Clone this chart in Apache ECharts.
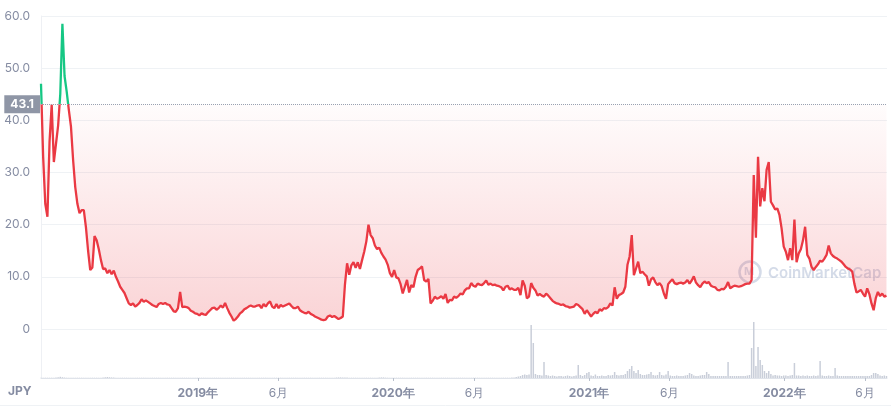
<!DOCTYPE html>
<html><head><meta charset="utf-8">
<script src="https://cdn.jsdelivr.net/npm/echarts@6/dist/echarts.min.js"></script>
<style>html,body{margin:0;padding:0;background:#fff}#c{width:891px;height:406px}</style>
</head><body><div id="c"></div>
<script>
// ---- data ----
const startDay = [2018, 2, 14];   // first sample (local date)
const stepDays = 4;               // one sample every 4 days
const endDays = 1581;             // axis end, days after start
const baseline = 43.1;
const currency = 'JPY';
const price = [
47,33,24,21.5,36,43,32,35.5,39,45,
58.5,48.5,45.5,42,38.8,32.4,27.2,24,22.2,22.8,
22.8,19.5,15,11.3,11.8,17.8,17,15.3,13.2,11.5,
11.6,10.7,11.3,10.5,11.2,10,9.1,8.1,7.5,6.9,
5.9,4.9,4.6,4.9,4.3,4.6,5.0,5.7,5.2,5.5,
5.2,4.9,4.6,4.4,4.2,4.8,5.0,4.8,5.0,4.7,
4.6,4.0,3.4,3.3,4.0,7.1,4.2,4.3,4.2,4.0,
3.5,3.3,3.0,2.9,2.6,3.0,2.8,2.7,3.2,3.6,
4.0,4.1,3.7,4.0,4.5,4.1,5.0,4.0,3.1,2.4,
1.6,1.9,2.4,3.0,3.3,3.8,4.0,4.3,4.5,4.3,
4.3,4.5,4.6,4.0,4.8,4.3,4.9,5.3,4.3,4.0,
4.8,4.0,4.6,4.3,4.5,4.7,4.9,4.4,4.0,4.0,
4.3,3.6,3.3,3.1,3.0,3.3,2.9,2.7,2.4,2.2,
2.0,1.8,1.7,1.8,2.4,2.6,2.3,2.5,2.2,1.9,
2.1,2.4,8.5,12.6,10.4,12.2,12.8,11.7,12.8,11.5,
13.2,14.8,16.8,20.0,18.0,17.4,16.0,15.3,15.6,14.6,
13.9,13.3,12.3,10.7,10.0,11.3,9.9,9.7,8.6,6.8,
8.1,9.4,7.0,8.4,8.0,10.0,11.3,11.6,12.0,9.4,
9.1,9.6,4.9,5.4,6.2,5.8,6.0,6.3,5.8,6.7,
5.0,5.6,5.5,6.2,6.0,6.3,6.8,6.6,7.4,7.8,
7.8,8.8,8.3,8.1,8.7,8.5,8.4,8.8,9.3,8.5,
8.7,8.4,8.5,8.3,8.2,8.0,7.4,8.1,8.3,7.6,
7.8,7.5,7.5,7.9,6.5,9.3,8.3,5.9,6.2,8.8,
7.9,7.4,6.4,6.7,6.4,6.2,6.8,6.4,5.9,5.4,
5.1,4.9,4.8,4.6,4.7,4.4,4.3,4.1,4.2,4.3,
4.8,4.6,4.2,3.8,2.9,3.6,3.0,2.4,2.9,3.3,
3.0,3.8,3.5,4.0,3.9,4.2,4.9,4.5,8.0,5.8,
6.5,6.7,7.0,8.1,12.3,13.9,18.0,10.3,11.6,12.9,
10.7,11.0,10.5,10.1,8.3,9.5,9.9,9.0,8.4,8.8,
8.2,6.8,5.8,8.6,9.1,9.5,8.8,8.6,8.8,8.9,
8.7,8.9,9.4,8.7,9.3,10.1,8.9,8.4,8.0,8.7,
9.1,8.8,9.0,8.3,8.1,8.0,7.5,7.4,7.7,7.6,
8.1,9.0,7.8,8.1,8.3,8.2,8.1,8.2,8.4,8.6,
8.7,8.7,9.4,29.5,17.5,33.0,23.5,27.0,24.5,30.5,
32.0,24.4,23.7,22.9,23.1,21.9,19.3,15.8,14.8,13.2,
15.5,13.2,21.0,12.8,14.5,15.3,17.0,19.6,14.2,13.5,
11.9,11.3,11.9,12.4,13.1,12.9,13.5,14.2,16.0,14.5,
14.0,13.7,13.5,13.2,12.9,12.4,11.9,11.6,11.4,11.0,
8.7,7.0,7.2,7.5,6.8,6.2,7.8,6.7,4.9,3.6,
5.9,7.1,6.3,6.8,6.2,6.4
];
const volume = [
0.3,0.3,0.3,0.3,0.3,0.3,0.3,0.5,0.8,1.2,
0.8,0.5,0.3,0.3,0.3,0.3,0.3,0.3,0.3,0.3,
0.3,0.3,0.3,0.3,0.3,0.3,0.3,0.3,0.3,0.6,
0.8,1.0,0.8,0.6,0.5,0.3,0.3,0.3,0.3,0.3,
0.3,0.3,0.3,0.3,0.3,0.3,0.3,0.3,0.3,0.3,
0.3,0.3,0.3,0.3,0.3,0.3,0.3,0.3,0.3,0.3,
0.3,0.3,0.3,0.3,0.3,0.3,0.3,0.3,0.3,0.3,
0.3,0.3,0.3,0.3,0.3,0.3,0.3,0.3,0.3,0.3,
0.3,0.3,0.3,0.3,0.3,0.3,0.3,0.3,0.3,0.3,
0.3,0.3,0.3,0.3,0.3,0.3,0.3,0.3,0.3,0.3,
0.3,0.3,0.3,0.3,0.3,0.3,0.3,0.3,0.3,0.3,
0.3,0.3,0.3,0.3,0.3,0.3,0.3,0.3,0.3,0.3,
0.3,0.3,0.3,0.3,0.3,0.3,0.3,0.3,0.3,0.3,
0.3,0.3,0.3,0.3,0.3,0.3,0.3,0.3,0.5,0.6,
0.6,0.6,0.5,0.4,0.3,0.3,0.3,0.3,0.3,0.3,
0.3,0.3,0.3,0.3,0.3,0.3,0.3,0.3,0.5,0.6,
0.6,0.4,0.3,0.3,0.3,0.3,0.3,0.3,0.3,0.3,
0.3,0.3,0.3,0.3,0.3,0.3,0.3,0.3,0.3,0.3,
0.3,0.3,0.3,0.3,0.3,0.3,0.3,0.3,0.3,0.3,
0.3,0.3,0.3,0.3,0.3,0.3,0.3,0.3,0.3,0.3,
0.3,0.3,0.3,0.3,0.3,0.3,0.3,0.3,0.3,0.3,
0.3,0.3,0.3,0.3,0.3,0.3,0.3,0.3,0.3,0.3,
0.4,0.6,1,1.5,2,3,3.5,3,3.5,53,
35,4,3,3,2.5,16,3,2.5,2,2.5,
2,1.5,2,2,1.5,2,2.5,2,1.5,2,
2.5,13,3,2,3,5,6,2.5,2,3.5,
2,2,2.5,2,2,3,2.5,3,6,3,
2.5,3,3,4,7,9,12,7,5,8,
4,3,3,3.5,4,6,3,2.5,3,6,
3,2.5,3.5,7,2.5,2,2,2.5,2,2,
2,2.5,3,5,4,2.5,2,2,2.5,3,
3,6,4,2,2,2,2,2,2,2,
2,16,2,2,2,2,2,2,2,2,
2.5,3,30,56,12,31,18,13,7,5,
7,4,2.5,3,2.5,2.5,2,2.5,2.5,2,
2.5,3,15,2.5,2.5,2,2.5,2,2.5,2,
2,2.5,2,2.5,17,2.5,2,2,2.5,2,
2,10,2.5,2,2,2,2,2,2,2,
2,2,2,2,2,2,2,2,3,5,
5,4,2.5,2,2.5,2
];
const tickDates = [[2019,0,1],[2019,5,1],[2020,0,1],[2020,5,1],[2021,0,1],[2021,5,1],[2022,0,1],[2022,5,1]];
const priceTicks = {min: 0, max: 60, interval: 10};

// ---- build ----
const dayTs = (y, m, d) => new Date(y, m, d).getTime();
const dates = price.map((_, i) => dayTs(startDay[0], startDay[1], startDay[2] + i * stepDays));
const xMin = dates[0];
const xMax = dayTs(startDay[0], startDay[1], startDay[2] + endDays);
const tickTs = tickDates.map(t => dayTs(t[0], t[1], t[2]));
const FONT = 'Inter, "Noto Sans", sans-serif';
const GRAY = '#858ca2';
const GREEN = '#16c784', RED = '#ea3943';
const G0 = {left: 41, right: 4, top: 16, height: 313};
const cut = (priceTicks.max - baseline) / (priceTicks.max - priceTicks.min);
const baseY = G0.top + cut * G0.height;
const bottomY = G0.top + G0.height;

const chart = echarts.init(document.getElementById('c'), null, {renderer: 'canvas'});
chart.setOption({
  animation: false,
  backgroundColor: '#fff',
  grid: [
    G0,
    {left: 41, right: 4, top: 318, height: 60}
  ],
  xAxis: [
    {type: 'value', gridIndex: 0, min: xMin, max: xMax, show: false},
    {type: 'value', gridIndex: 1, min: xMin, max: xMax,
     axisLine: {show: true, lineStyle: {color: '#dfe3ea', width: 1}},
     axisTick: {show: true, customValues: tickTs, length: 3, lineStyle: {color: '#b9c0cc'}},
     splitLine: {show: false},
     axisLabel: {customValues: tickTs, margin: 9, color: GRAY, fontSize: 12, fontFamily: FONT,
       formatter: v => { const d = new Date(v); return d.getMonth() === 0 ? '{y|' + d.getFullYear() + '年}' : (d.getMonth() + 1) + '月'; },
       rich: {y: {fontWeight: 'bold', color: GRAY, fontSize: 12, fontFamily: FONT}}}
    }
  ],
  yAxis: [
    {type: 'value', gridIndex: 0, min: priceTicks.min, max: priceTicks.max, interval: priceTicks.interval,
     axisLine: {show: true, lineStyle: {color: '#eef0f4'}},
     axisTick: {show: false},
     splitLine: {lineStyle: {color: '#eff2f5', width: 1}},
     axisLabel: {margin: 11, color: GRAY, fontSize: 12, fontFamily: FONT,
       formatter: v => v === 0 ? '0' : v.toFixed(1)}},
    {type: 'value', gridIndex: 1, min: 0, max: 60,
     axisLine: {show: true, lineStyle: {color: '#eef0f4'}},
     axisTick: {show: false}, axisLabel: {show: false}, splitLine: {show: false}}
  ],
  graphic: [
    {type: 'text', left: 8, top: 385, z: 10, style: {text: currency, fill: GRAY, font: 'bold 12px ' + FONT}},
    {type: 'line', z: 0, shape: {x1: 0, y1: 405.5, x2: 891, y2: 405.5}, style: {stroke: '#eff2f5', lineWidth: 1}},
    {type: 'circle', z: 1, shape: {cx: 750, cy: 272, r: 10.5}, style: {fill: 'none', stroke: 'rgba(160,176,204,0.45)', lineWidth: 2.5}},
    {type: 'text', z: 1, x: 744, y: 272, style: {text: 'M', fill: 'rgba(160,176,204,0.45)', font: 'bold 11px ' + FONT, verticalAlign: 'middle'}},
    {type: 'text', z: 1, x: 768, y: 273, style: {text: 'CoinMarketCap', fill: 'rgba(160,176,204,0.45)', font: '600 15px ' + FONT, verticalAlign: 'middle'}}
  ],
  series: [
    {type: 'line', xAxisIndex: 0, yAxisIndex: 0, z: 3,
     data: dates.map((d, i) => [d, price[i]]),
     showSymbol: false,
     lineStyle: {width: 2.3, color: new echarts.graphic.LinearGradient(0, G0.top, 0, bottomY, [
         {offset: 0, color: GREEN}, {offset: cut, color: GREEN},
         {offset: cut, color: RED}, {offset: 1, color: RED}], true)},
     areaStyle: {origin: baseline,
       color: new echarts.graphic.LinearGradient(0, baseY, 0, bottomY, [
         {offset: 0, color: 'rgba(234,57,67,0.02)'},
         {offset: 1, color: 'rgba(234,57,67,0.32)'}], true)},
     markLine: {silent: true, symbol: ['none', 'none'],
       lineStyle: {type: 'dotted', color: '#9aa1b1', width: 1},
       label: {position: 'start', distance: 1, formatter: String(baseline), color: '#fff', fontWeight: 'bold',
         fontSize: 12, fontFamily: FONT, backgroundColor: '#8f96a6', padding: [3, 6, 3, 6]},
       data: [{yAxis: baseline}]}},
    {type: 'bar', xAxisIndex: 1, yAxisIndex: 1, z: 2,
     data: dates.map((d, i) => [d, volume[i]]),
     barWidth: 1.5, itemStyle: {color: '#c9ced9'}}
  ]
});
</script></body></html>
